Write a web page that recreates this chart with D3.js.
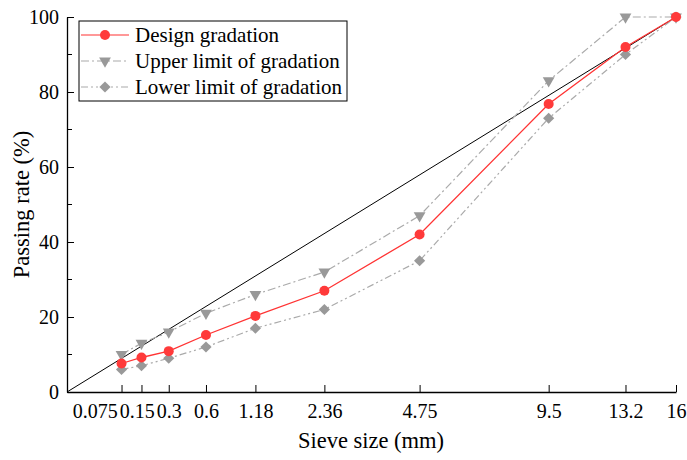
<!DOCTYPE html>
<html>
<head>
<meta charset="utf-8">
<script src="https://cdn.jsdelivr.net/npm/d3@7"></script>
<style>
  body { margin: 0; background: #fff; }
</style>
</head>
<body>
<svg id="chart" width="687" height="460"></svg>
<script>
// sieve sizes (mm) and passing rates (%)
const sieves = [0.075, 0.15, 0.3, 0.6, 1.18, 2.36, 4.75, 9.5, 13.2, 16];
const sieveLabels = ["0.075", "0.15", "0.3", "0.6", "1.18", "2.36", "4.75", "9.5", "13.2", "16"];
const design = [7.6, 9.2, 10.9, 15.2, 20.3, 27, 42, 76.8, 92, 100];
const upper = [10, 13, 16, 21, 26, 32, 47, 83, 100, 100];
const lower = [6, 7, 9, 12, 17, 22, 35, 73, 90, 100];
const maxDensity = [[0, 0], [16, 100]];
const yTicks = [0, 20, 40, 60, 80, 100];
const yMinor = [10, 30, 50, 70, 90];

const FONT = "'Liberation Serif', 'Times New Roman', Times, serif";
const svg = d3.select("#chart").attr("font-family", FONT);
const margin = { left: 67, right: 11, top: 17, bottom: 68 };
const W = 687, H = 460;

// gradation charts use a 0.45 power scale on the x-axis
const x = d3.scalePow().exponent(0.45).domain([0, 16]).range([margin.left, W - margin.right]);
const y = d3.scaleLinear().domain([0, 100]).range([H - margin.bottom, margin.top]);

// axes (ticks point inward)
const xAxis = d3.axisBottom(x).tickValues(sieves).tickFormat((d, i) => sieveLabels[i]).tickSizeInner(-7).tickSizeOuter(0).tickPadding(12);
const gx = svg.append("g").attr("transform", `translate(0,${y(0)})`).call(xAxis);
gx.attr("font-family", FONT);
gx.selectAll("text").attr("font-size", 20).attr("fill", "#000").attr("font-family", FONT);
gx.select(".domain").attr("stroke-width", 1.3);

// push crowded small-sieve labels leftwards so they sit side by side
const xt = gx.selectAll(".tick text").nodes();
let leftEdge = Infinity;
for (let i = 3; i >= 0; i--) {
    const w = xt[i].getComputedTextLength();
    const cx = x(sieves[i]);
    let right = Math.min(cx + w / 2, leftEdge - 2);
    xt[i].setAttribute("text-anchor", "end");
    xt[i].setAttribute("x", right - cx);
    leftEdge = right - w;
}

const yAxis = d3.axisLeft(y).tickValues(yTicks).tickSizeInner(-7).tickSizeOuter(0).tickPadding(8);
const gy = svg.append("g").attr("transform", `translate(${x(0)},0)`).call(yAxis);
gy.attr("font-family", FONT);
gy.selectAll("text").attr("font-size", 20).attr("fill", "#000").attr("font-family", FONT);
gy.select(".domain").attr("stroke-width", 1.3);
svg.append("g").selectAll("line").data(yMinor).enter().append("line")
    .attr("x1", x(0)).attr("x2", x(0) + 5)
    .attr("y1", d => y(d)).attr("y2", d => y(d))
    .attr("stroke", "#000");

// axis titles
svg.append("text").attr("x", 371).attr("y", 448).attr("text-anchor", "middle")
    .attr("font-size", 22.5).text("Sieve size (mm)");
svg.append("text").attr("transform", `translate(29,${(y(0) + y(100)) / 2}) rotate(-90)`)
    .attr("text-anchor", "middle").attr("font-size", 22.5).text("Passing rate (%)");

// maximum density line
svg.append("path").datum(maxDensity)
    .attr("d", d3.line().x(d => x(d[0])).y(d => y(d[1])))
    .attr("fill", "none").attr("stroke", "#000").attr("stroke-width", 1);

const line = d3.line().x((d, i) => x(sieves[i])).y(d => y(d));
const grey = "#999999";

// lower limit
svg.append("path").datum(lower).attr("d", line).attr("fill", "none")
    .attr("stroke", "#aaaaaa").attr("stroke-width", 1.2).attr("stroke-dasharray", "7,3,2,3,2,3");
svg.append("g").selectAll("path").data(lower).enter().append("path")
    .attr("d", d3.symbol().type(d3.symbolDiamond2).size(80))
    .attr("transform", (d, i) => `translate(${x(sieves[i])},${y(d)})`)
    .attr("fill", grey);

// upper limit
svg.append("path").datum(upper).attr("d", line).attr("fill", "none")
    .attr("stroke", "#aaaaaa").attr("stroke-width", 1.2).attr("stroke-dasharray", "8,3,2,3");
svg.append("g").selectAll("path").data(upper).enter().append("path")
    .attr("d", d3.symbol().type(d3.symbolTriangle).size(60))
    .attr("transform", (d, i) => `translate(${x(sieves[i])},${y(d)}) rotate(180)`)
    .attr("fill", grey);

// design gradation
svg.append("path").datum(design).attr("d", line).attr("fill", "none")
    .attr("stroke", "#ff3333").attr("stroke-width", 1.3);
svg.append("g").selectAll("circle").data(design).enter().append("circle")
    .attr("cx", (d, i) => x(sieves[i])).attr("cy", d => y(d)).attr("r", 5)
    .attr("fill", "#ff3a3a");

// legend
const lg = svg.append("g").attr("transform", "translate(79,21)");
lg.append("rect").attr("width", 268).attr("height", 80).attr("fill", "#fff")
    .attr("stroke", "#000").attr("stroke-width", 1);
const legendItems = [
    { label: "Design gradation", color: "#ff3333", dash: null, mark: "circle" },
    { label: "Upper limit of gradation", color: "#aaaaaa", dash: "8,3,2,3", mark: "tri" },
    { label: "Lower limit of gradation", color: "#aaaaaa", dash: "7,3,2,3,2,3", mark: "dia" }
];
legendItems.forEach((it, i) => {
    const cy = 14 + i * 26;
    lg.append("line").attr("x1", 2).attr("x2", 50).attr("y1", cy).attr("y2", cy)
        .attr("stroke", it.color).attr("stroke-width", 1.2).attr("stroke-dasharray", it.dash);
    if (it.mark === "circle") {
        lg.append("circle").attr("cx", 26).attr("cy", cy).attr("r", 5).attr("fill", "#ff3a3a");
    } else {
        const sym = it.mark === "tri" ? d3.symbol().type(d3.symbolTriangle).size(60)
                                      : d3.symbol().type(d3.symbolDiamond2).size(80);
        lg.append("path").attr("d", sym)
            .attr("transform", `translate(26,${cy})` + (it.mark === "tri" ? " rotate(180)" : ""))
            .attr("fill", grey);
    }
    lg.append("text").attr("x", 56).attr("y", cy + 7).attr("font-size", 21).text(it.label);
});
</script>
</body>
</html>
